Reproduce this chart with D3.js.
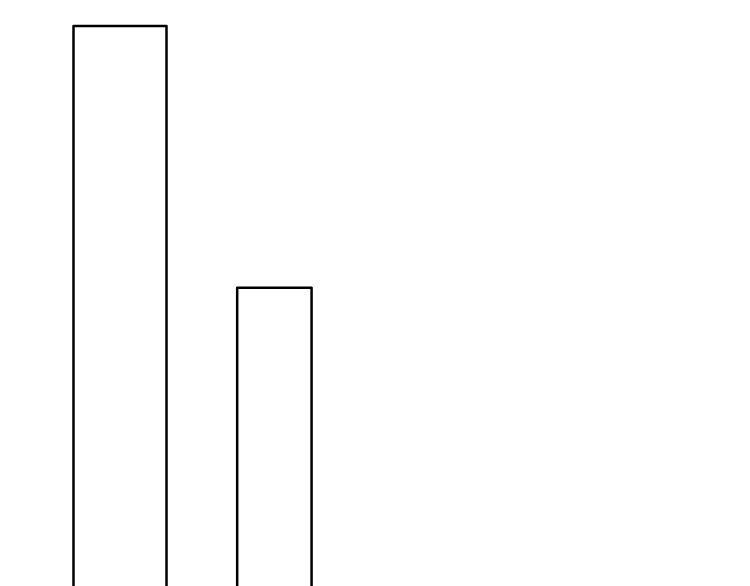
<!DOCTYPE html>
<html>
<head>
<meta charset="utf-8">
<script src="https://cdn.jsdelivr.net/npm/d3@7"></script>
<style>
  html, body { margin: 0; padding: 0; background: #fff; overflow: hidden; }
</style>
</head>
<body>
<svg id="canvas"></svg>
<script>
// bin edges and heights
let binStart = [0, 8.8]
let binEnd = [5, 12.8]
let values = [100, 56]

let width = 750
let height = 586

let svg = d3.select("#canvas")
svg.attr("width", width)
svg.attr("height", height)

let xScale = d3.scaleLinear()
    .domain([0, 36])
    .range([73.5, 73.5 + 36 * 18.6])

// baseline sits below the visible area
let yScale = d3.scaleLinear()
    .domain([0, 100])
    .range([621, 26])

let data = values.map((v, i) => ({ x0: binStart[i], x1: binEnd[i], value: v }))

svg.selectAll("rect")
    .data(data)
    .enter()
    .append("rect")
    .attr("x", d => xScale(d.x0))
    .attr("width", d => xScale(d.x1) - xScale(d.x0))
    .attr("y", d => yScale(d.value))
    .attr("height", d => yScale(0) - yScale(d.value))
    .attr("fill", "white")
    .attr("stroke", "black")
    .attr("stroke-width", 2.5)
    .attr("stroke-linejoin", "round")
</script>
</body>
</html>
